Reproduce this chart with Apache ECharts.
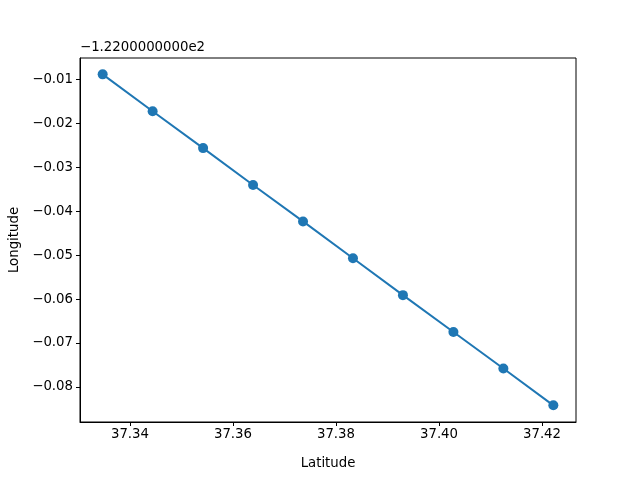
<!DOCTYPE html>
<html>
<head>
<meta charset="utf-8">
<script src="https://cdn.jsdelivr.net/npm/echarts@6/dist/echarts.min.js"></script>
<style>
  html, body { margin: 0; padding: 0; background: #ffffff; }
  #chart { width: 640px; height: 480px; }
</style>
</head>
<body>
<div id="chart"></div>
<script>
// latitude values (x) and longitude minus the -122 offset (y)
const latitude = [37.3347, 37.3444, 37.3542, 37.3639, 37.3736, 37.3833, 37.3930, 37.4028, 37.4125, 37.4222];
const lonOffset = [-0.0088, -0.0172, -0.0256, -0.0340, -0.0423, -0.0507, -0.0591, -0.0675, -0.0758, -0.0842];
const xTicks = [37.34, 37.36, 37.38, 37.40, 37.42];
const yTicks = [-0.08, -0.07, -0.06, -0.05, -0.04, -0.03, -0.02, -0.01];
const offsetText = "\u22121.2200000000e2";

const font = "DejaVu Sans";
const minus = (s) => s.replace("-", "\u2212");

const chart = echarts.init(document.getElementById("chart"));

chart.setOption({
  animation: false,
  textStyle: { fontFamily: font },
  grid: {
    left: 80, right: 64, top: 58, bottom: 58,
    show: true, borderColor: "#000", borderWidth: 1, backgroundColor: "#fff"
  },
  graphic: [{
    type: "text", left: 80, top: 41,
    style: { text: offsetText, font: "13.3px DejaVu Sans", fill: "#000" }
  }],
  xAxis: {
    type: "value",
    min: 37.3303, max: 37.4266,
    name: "Latitude", nameLocation: "middle", nameGap: 35,
    nameTextStyle: { fontSize: 13.3, color: "#000", fontFamily: font },
    axisLine: { show: true, lineStyle: { color: "#000", width: 1 } },
    axisTick: { show: true, length: 4, lineStyle: { color: "#000" }, customValues: xTicks },
    axisLabel: {
      fontSize: 13.3, color: "#000", margin: 6, customValues: xTicks,
      formatter: (v) => v.toFixed(2)
    },
    splitLine: { show: false }
  },
  yAxis: {
    type: "value",
    min: -0.0880, max: -0.00507,
    name: "Longitude", nameLocation: "middle", nameGap: 55,
    nameTextStyle: { fontSize: 13.3, color: "#000", fontFamily: font },
    axisLine: { show: true, lineStyle: { color: "#000", width: 1 } },
    axisTick: { show: true, length: 4, lineStyle: { color: "#000" }, customValues: yTicks },
    axisLabel: {
      fontSize: 13.3, color: "#000", margin: 7, customValues: yTicks,
      formatter: (v) => minus(v.toFixed(2))
    },
    splitLine: { show: false }
  },
  series: [{
    type: "line",
    data: latitude.map((x, i) => [x, lonOffset[i]]),
    symbol: "circle",
    symbolSize: 10,
    showSymbol: true,
    itemStyle: { color: "#1f77b4" },
    lineStyle: { color: "#1f77b4", width: 2 }
  }]
});
</script>
</body>
</html>
